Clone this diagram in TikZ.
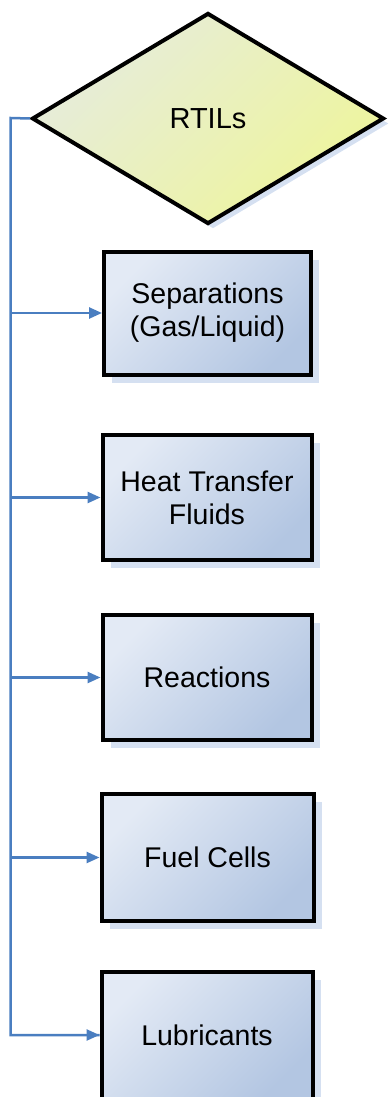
\documentclass[tikz,border=0pt]{standalone}
\usepackage{fontspec}
\setmainfont{Liberation Sans}
\usepackage{tikz}
\usetikzlibrary{shapes.geometric,shadows,arrows.meta}
\tikzset{>={Triangle[length=13pt,width=11pt]}}
\definecolor{boxlight}{HTML}{E3EAF5}
\definecolor{boxdark}{HTML}{B3C6E2}
\definecolor{dialight}{HTML}{E6ECDC}
\definecolor{diadark}{HTML}{EEF59C}
\definecolor{shadowblue}{HTML}{D5E0F1}
\definecolor{linkblue}{HTML}{4A7EC0}
\tikzset{
  usebox/.style={draw=black,line width=4pt,shading=axis,top color=boxlight,
    bottom color=boxdark,shading angle=45,align=center,inner sep=0pt,
    minimum width=207pt,minimum height=123pt,
    drop shadow={shadow xshift=8pt,shadow yshift=-8pt,fill=shadowblue,opacity=1},
    font=\fontsize{28.5}{33}\selectfont},
  link/.style={draw=linkblue,line width=2.5pt}
}

\begin{document}
\begin{tikzpicture}[x=1pt,y=-1pt]
       \useasboundingbox (0,0) rectangle (388,1097);
       \node[diamond,draw=black,line width=4pt,shading=axis,top color=dialight,
         bottom color=diadark,shading angle=45,inner sep=0pt,
         minimum width=352pt,minimum height=211pt,
         drop shadow={shadow xshift=5pt,shadow yshift=-5pt,fill=shadowblue,opacity=1},
         font=\fontsize{29}{33}\selectfont] (rtils) at (208,118.5) {RTILs};
       \node[usebox] (sep) at (207.5,313) {Separations\\(Gas/Liquid)};
       \node[usebox,minimum width=209pt,minimum height=125pt] (heat) at (207,497.5) {Heat Transfer\\Fluids};
       \node[usebox,minimum width=209pt,minimum height=125pt] (react) at (207,677.5) {Reactions};
       \node[usebox,minimum width=212pt,minimum height=127pt] (fuel) at (207.5,857.5) {Fuel Cells};
       \node[usebox,minimum width=211pt,minimum height=127pt] (lube) at (207,1035) {Lubricants};
       \coordinate (bus) at (10.5,118);
       \draw[link] (rtils.west) -- (bus) |- (lube.west);
       \foreach \b in {sep,heat,react,fuel,lube}
         \draw[link,->] (bus |- \b.west) -- (\b.west);
      \end{tikzpicture}
\end{document}
